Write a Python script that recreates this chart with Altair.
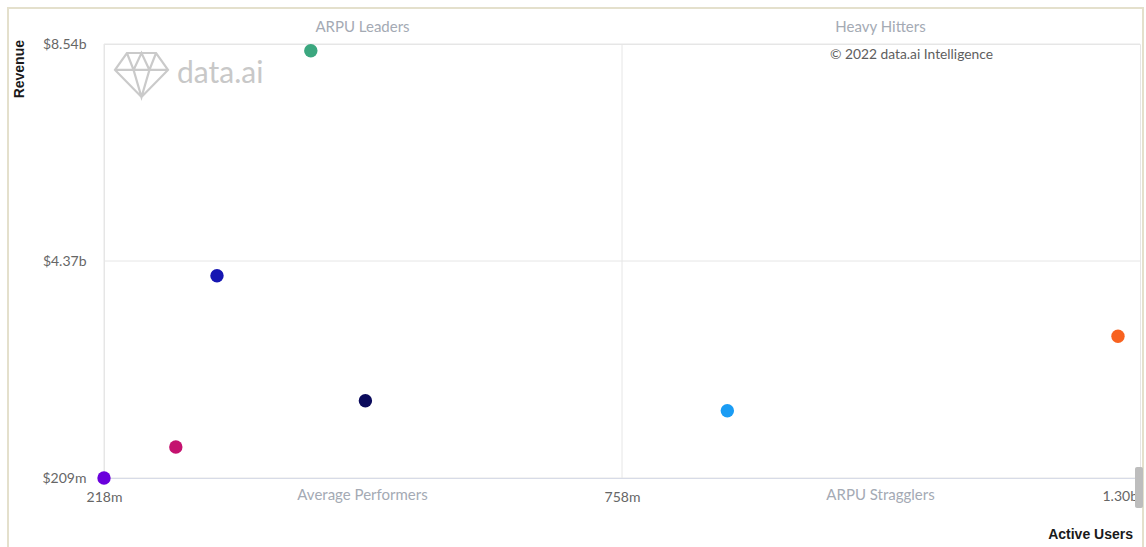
import altair as alt
import pandas as pd

# ---- data ----
apps = ["App 1", "App 2", "App 3", "App 4", "App 5", "App 6", "App 7"]
active_users_m = [434, 336, 491, 293, 218, 869, 1277]
revenue_m = [8411, 4092, 1693, 804, 209, 1501, 2929]
colors = ["#3BA77F", "#1616B2", "#0B0B5C", "#C4126F", "#6A00DC", "#1A9CF4", "#F8621F"]

x_tick_values = [218, 759]
x_tick_labels = ["218m", "758m"]
x_end_value = [1300]
x_end_label = ["1.30b"]
y_tick_values = [209, 4374.5, 8540]
y_tick_labels = ["$209m", "$4.37b", "$8.54b"]
x_grid_values = [218, 759]
y_grid_values = [209, 4374.5, 8540]
x_domain = [218, 1300]
y_domain = [209, 8540]

FONT = "Lato"
LABEL_SIZE = 14
LABEL_COLOR = "#666666"

df = pd.DataFrame({"app": apps, "users": active_users_m, "revenue": revenue_m})


def label_expr(values, labels):
    expr = "''"
    for v, l in zip(values, labels):
        expr = f"abs(datum.value - {v}) < 1 ? '{l}' : ({expr})"
    return expr


xs = alt.Scale(domain=x_domain, nice=False, zero=False)
ys = alt.Scale(domain=y_domain, nice=False, zero=False)

X_AX = alt.Axis(
    values=x_tick_values, labelExpr=label_expr(x_tick_values, x_tick_labels),
    title=None, grid=False, ticks=False, tickSize=0, labelFlush=False, labelOverlap=False,
    domainColor="#C9D1E8", domainWidth=1, labelPadding=12, labelFont=FONT,
    labelFontSize=LABEL_SIZE, labelColor=LABEL_COLOR, labelBaseline="top", labelAlign="center",
)
Y_AX = alt.Axis(
    values=y_tick_values, labelExpr=label_expr(y_tick_values, y_tick_labels),
    title=None, grid=False, ticks=False, tickSize=0, domain=False, labelOverlap=False,
    labelPadding=18, labelFont=FONT, labelFontSize=LABEL_SIZE, labelColor=LABEL_COLOR,
    labelBaseline="middle",
)

one = pd.DataFrame({"k": [0]})

# outer beige frame
frame = alt.Chart(one).mark_rect(filled=False, stroke="#E4E0CC", strokeWidth=2).encode(
    x=alt.value(-96), x2=alt.value(1039), y=alt.value(-36), y2=alt.value(520)
)

# grid lines
vgrid = alt.Chart(pd.DataFrame({"users": x_grid_values})).mark_rule(color="#E6E6E6", strokeWidth=1).encode(
    x=alt.X("users:Q", scale=xs, axis=X_AX)
)
hgrid = alt.Chart(pd.DataFrame({"revenue": y_grid_values})).mark_rule(color="#E6E6E6", strokeWidth=1).encode(
    y=alt.Y("revenue:Q", scale=ys, axis=Y_AX)
)

# last x label, kept inside the plot (right aligned at the end of the range)
end_label = alt.Chart(pd.DataFrame({"users": x_end_value, "lab": x_end_label})).mark_text(
    font=FONT, fontSize=LABEL_SIZE, color=LABEL_COLOR, align="right", baseline="top", dx=-2
).encode(
    x=alt.X("users:Q", scale=xs, axis=X_AX),
    y=alt.value(446),
    text="lab:N",
)

# watermark logo
gem_path = (
    "M-1,-0.19L-0.55,-0.83L0.55,-0.83L1,-0.19L0,0.83Z"
    "M-1,-0.19L1,-0.19"
    "M-0.55,-0.83L-0.3,-0.19L0,0.83L0.3,-0.19L0.55,-0.83"
    "M-0.3,-0.19L0,-0.83L0.3,-0.19"
)
gem = alt.Chart(one).mark_point(
    shape=gem_path, filled=False, stroke="#CACACA", strokeWidth=2.2, size=2809, opacity=1
).encode(x=alt.value(37.5), y=alt.value(31))
logo_text = alt.Chart(one).mark_text(
    text="data.ai", font=FONT, fontSize=30, color="#C8C8C8", align="left", baseline="middle"
).encode(x=alt.value(73), y=alt.value(30))

copyright_t = alt.Chart(one).mark_text(
    text="© 2022 data.ai Intelligence", font=FONT, fontSize=13.8, color="#5E5E5E",
    align="left", baseline="middle"
).encode(x=alt.value(726), y=alt.value(11))

# quadrant labels
q_text = ["ARPU Leaders", "Heavy Hitters", "Average Performers", "ARPU Stragglers"]
q_layers = []
for t, px, py in zip(q_text, [258.5, 776.5, 258.5, 776.5], [-17, -17, 451, 451]):
    q_layers.append(
        alt.Chart(one).mark_text(
            text=t, font=FONT, fontSize=15, color="#A4AAB4", align="center", baseline="middle"
        ).encode(x=alt.value(px), y=alt.value(py))
    )

# axis titles
rev_title = alt.Chart(one).mark_text(
    text="Revenue", font="Liberation Sans", fontWeight="bold", fontSize=14, color="#1A1A1A",
    angle=270, align="right", baseline="middle"
).encode(x=alt.value(-84), y=alt.value(-4))
au_title = alt.Chart(one).mark_text(
    text="Active Users", font="Liberation Sans", fontWeight="bold", fontSize=14, color="#1A1A1A",
    align="right", baseline="middle"
).encode(x=alt.value(1029), y=alt.value(491))

# scrollbar thumb
thumb = alt.Chart(one).mark_rect(fill="#BDBDBD", cornerRadius=2).encode(
    x=alt.value(1031), x2=alt.value(1039), y=alt.value(423), y2=alt.value(464)
)

points = alt.Chart(df).mark_circle(size=180, opacity=1).encode(
    x=alt.X("users:Q", scale=xs, axis=X_AX),
    y=alt.Y("revenue:Q", scale=ys, axis=Y_AX),
    color=alt.Color("app:N", scale=alt.Scale(domain=apps, range=colors), legend=None),
)

chart = alt.layer(
    frame, vgrid, hgrid, gem, logo_text, copyright_t, *q_layers, rev_title, au_title,
    end_label, thumb, points
).properties(
    width=1036, height=434,
    autosize=alt.AutoSizeParams(type="none"),
    padding={"left": 104, "top": 44, "right": 6, "bottom": 69},
    background="white",
).configure_view(stroke="#E6E6E6", strokeWidth=1)

chart.save("out.html", embed_options={"renderer": "svg", "actions": False})
